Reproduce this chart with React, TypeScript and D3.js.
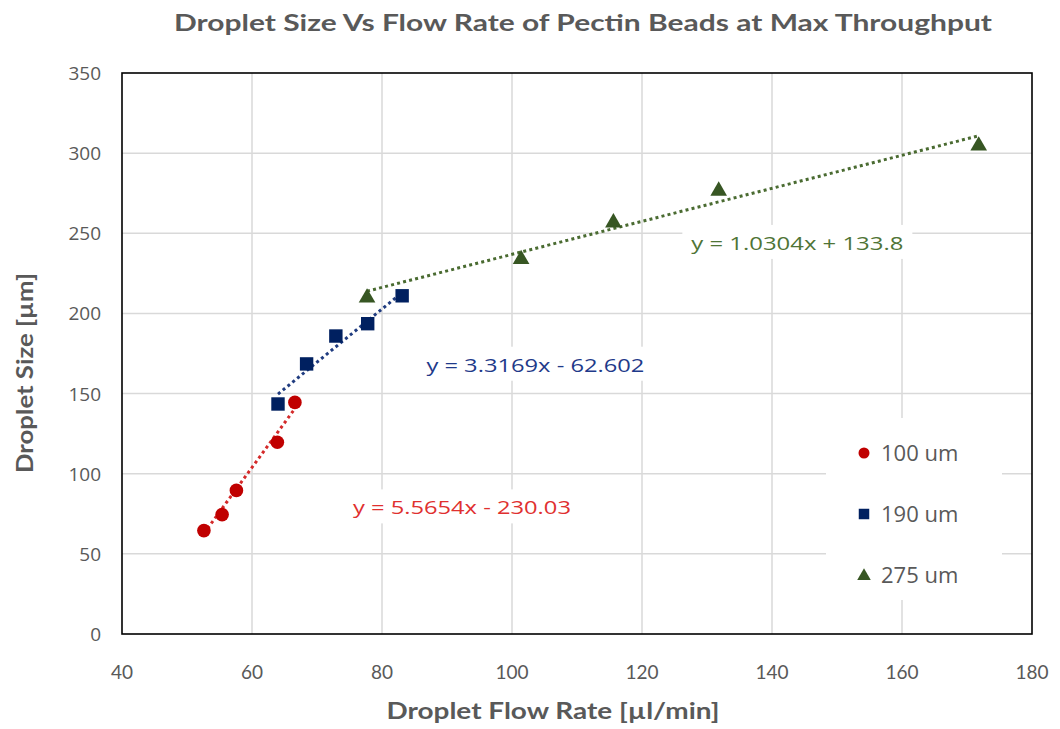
import * as d3 from "d3";

// series data
const red100X = [52.6, 55.4, 57.6, 63.9, 66.6];
const red100Y = [64.5, 74.5, 89.6, 119.6, 144.5];
const blue190X = [64.0, 68.4, 72.9, 77.8, 83.1];
const blue190Y = [143.5, 168.5, 185.9, 193.6, 211.0];
const green275X = [77.7, 101.4, 115.6, 131.8, 171.8];
const green275Y = [210.4, 234.4, 257.3, 277.1, 305.2];

const seriesNames = ["100 um", "190 um", "275 um"];
const trendSlopes = [5.5654, 3.3169, 1.0304];
const trendIntercepts = [-230.03, -62.602, 133.8];
const trendLabels = ["y = 5.5654x - 230.03", "y = 3.3169x - 62.602", "y = 1.0304x + 133.8"];

const xTicks = [40, 60, 80, 100, 120, 140, 160, 180];
const yTicks = [0, 50, 100, 150, 200, 250, 300, 350];

const W = 1060;
const H = 729;
const margin = { top: 73, right: 28, bottom: 95, left: 122 };

const markerColors = ["#c00000", "#002060", "#375623"];
const lineColors = ["#d42a2a", "#203c80", "#4a6b31"];
const labelColors = ["#e0302f", "#1f3a8a", "#4f7436"];
const gray = "#595959";

export default function App() {
  const x = d3.scaleLinear().domain([40, 180]).range([margin.left, W - margin.right]);
  const y = d3.scaleLinear().domain([0, 350]).range([H - margin.bottom, margin.top]);

  const series = [
    { xs: red100X, ys: red100Y },
    { xs: blue190X, ys: blue190Y },
    { xs: green275X, ys: green275Y },
  ];

  const line = d3.line<[number, number]>().x(d => x(d[0])).y(d => y(d[1]));
  const tri = d3.symbol().type(d3.symbolTriangle).size(120)();
  const sq = d3.symbol().type(d3.symbolSquare).size(180)();

  // label box centres in data units
  const labelPos: [number, number][] = [[92.3, 79], [103.6, 168], [143.9, 244]];

  const marker = (i: number, cx: number, cy: number, key: string, small = false) => {
    if (i === 0) return <circle key={key} cx={cx} cy={cy} r={small ? 5.5 : 6.8} fill={markerColors[0]} />;
    if (i === 1) return <path key={key} d={small ? d3.symbol().type(d3.symbolSquare).size(110)()! : sq!} transform={`translate(${cx},${cy})`} fill={markerColors[1]} />;
    return <path key={key} d={small ? d3.symbol().type(d3.symbolTriangle).size(80)()! : tri!} transform={`translate(${cx},${cy + 1})`} fill={markerColors[2]} />;
  };

  const drawOrder = [1, 2, 0];

  return (
    <svg width={W} height={H} style={{ position: "absolute", left: 0, top: 0, background: "#fff" }}
      fontFamily="Open Sans, sans-serif">
      <rect width={W} height={H} fill="#fff" />
      <text x={583} y={31} textAnchor="middle" fontFamily="Lato, sans-serif" fontWeight="bold" fontSize={23}
        fill={gray} textLength={818} lengthAdjust="spacingAndGlyphs">
        Droplet Size Vs Flow Rate of Pectin Beads at Max Throughput
      </text>

      {/* gridlines */}
      {xTicks.slice(1, -1).map(t => (
        <line key={"gx" + t} x1={x(t)} x2={x(t)} y1={y(0)} y2={y(350)} stroke="#d9d9d9" strokeWidth={1.5} />
      ))}
      {yTicks.slice(1, -1).map(t => (
        <line key={"gy" + t} x1={x(40)} x2={x(180)} y1={y(t)} y2={y(t)} stroke="#d9d9d9" strokeWidth={1.5} />
      ))}

      {/* legend box */}
      <rect x={826} y={418} width={176} height={182} fill="#fff" />

      {/* trendline label boxes */}
      {trendLabels.map((lab, i) => (
        <rect key={"lb" + i} x={x(labelPos[i][0]) - 115} y={y(labelPos[i][1]) - 18} width={230} height={34} fill="#fff" />
      ))}

      <rect x={x(40)} y={y(350)} width={x(180) - x(40)} height={y(0) - y(350)} fill="none" stroke="#000" strokeWidth={1.6} />

      {/* trendlines */}
      {series.map((s, i) => {
        const x0 = d3.min(s.xs)!;
        const x1 = d3.max(s.xs)!;
        const pts: [number, number][] = [
          [x0, trendSlopes[i] * x0 + trendIntercepts[i]],
          [x1, trendSlopes[i] * x1 + trendIntercepts[i]],
        ];
        return (
          <path key={"tl" + i} d={line(pts)!} fill="none" stroke={lineColors[i]} strokeWidth={3}
            strokeDasharray="3 3.2" />
        );
      })}

      {/* markers */}
      {drawOrder.map(i =>
        series[i].xs.map((xv, j) => marker(i, x(xv), y(series[i].ys[j]), `m${i}-${j}`))
      )}

      {/* trendline labels */}
      {trendLabels.map((lab, i) => (
        <text key={"tlab" + i} x={x(labelPos[i][0])} y={y(labelPos[i][1]) + 7} textAnchor="middle" fontSize={19}
          fill={labelColors[i]} textLength={i === 2 ? 212 : 218} lengthAdjust="spacingAndGlyphs">
          {lab}
        </text>
      ))}

      {/* axis ticks */}
      {yTicks.map(t => (
        <text key={"yt" + t} x={101} y={y(t) + 7} textAnchor="end" fontSize={19} fill={gray}>{t}</text>
      ))}
      {xTicks.map(t => (
        <text key={"xt" + t} x={x(t)} y={y(0) + 45} textAnchor="middle" fontSize={19} fill={gray}
          fontFamily="Lato, sans-serif">{t}</text>
      ))}

      <text x={553} y={719} textAnchor="middle" fontFamily="Lato, sans-serif" fontWeight="bold" fontSize={22}
        fill={gray} textLength={333} lengthAdjust="spacingAndGlyphs">
        Droplet Flow Rate [µl/min]
      </text>
      <text transform="translate(33,373) rotate(-90)" textAnchor="middle" fontFamily="Lato, sans-serif"
        fontWeight="bold" fontSize={22} fill={gray} textLength={200} lengthAdjust="spacingAndGlyphs">
        Droplet Size [µm]
      </text>

      {/* legend */}
      {seriesNames.map((n, i) => (
        <g key={"lg" + i}>
          {marker(i, 864, 453 + i * 61, "lm" + i, true)}
          <text x={881} y={461 + i * 61} fontSize={22} fill={gray}>{n}</text>
        </g>
      ))}
    </svg>
  );
}
